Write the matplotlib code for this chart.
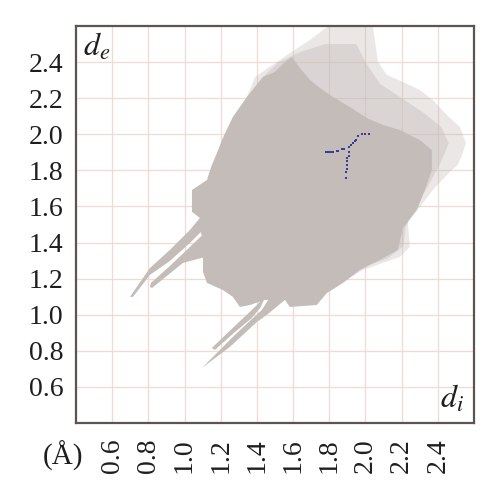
import matplotlib
matplotlib.use("Agg")
import matplotlib.pyplot as plt

# ---- data (d_i, d_e) ----
core_di = [1.041, 1.041, 1.124, 1.151, 1.179, 1.212, 1.267, 1.345, 1.433, 1.499, 1.555, 1.593,
           1.638, 1.693, 1.748, 1.820, 1.914, 2.008, 2.096, 2.190, 2.301, 2.367, 2.367, 2.328,
           2.284, 2.207, 2.179, 2.080, 1.969, 1.875, 1.787, 1.731, 1.582, 1.555, 1.444, 1.361,
           1.306, 1.267, 1.212, 1.124, 1.102, 1.102, 1.113, 1.085, 1.085]
core_de = [1.570, 1.691, 1.747, 1.830, 1.896, 1.980, 2.096, 2.207, 2.317, 2.345, 2.401, 2.428,
           2.367, 2.301, 2.257, 2.207, 2.151, 2.090, 2.052, 2.024, 1.968, 1.913, 1.802, 1.691,
           1.581, 1.481, 1.359, 1.304, 1.248, 1.176, 1.121, 1.054, 1.043, 1.082, 1.082, 1.054,
           1.043, 1.099, 1.137, 1.176, 1.237, 1.315, 1.387, 1.470, 1.536]

mid_di = [1.345, 1.433, 1.520, 1.650, 1.780, 1.950, 2.000, 2.080, 2.200, 2.320, 2.420, 2.460,
          2.420, 2.350, 2.280, 2.220, 2.210, 2.120, 2.000, 1.900, 1.800]
mid_de = [2.207, 2.317, 2.400, 2.460, 2.500, 2.500, 2.400, 2.280, 2.200, 2.120, 2.040, 1.950,
          1.850, 1.720, 1.600, 1.480, 1.380, 1.310, 1.270, 1.200, 1.130]

fringe_di = [1.345, 1.389, 1.461, 1.582, 1.693, 1.787, 2.041, 2.052, 2.069, 2.118, 2.207, 2.301,
             2.372, 2.450, 2.522, 2.555, 2.538, 2.510, 2.466, 2.372, 2.301, 2.234, 2.245, 2.190,
             2.096, 1.986, 1.914, 1.842, 1.787]
fringe_de = [2.207, 2.317, 2.367, 2.450, 2.522, 2.594, 2.594, 2.522, 2.401, 2.329, 2.290, 2.245,
             2.190, 2.107, 2.040, 1.952, 1.896, 1.830, 1.791, 1.691, 1.597, 1.514, 1.376, 1.320,
             1.287, 1.248, 1.204, 1.154, 1.121]

spike_c_di = [0.698, 0.809, 0.919, 1.030, 1.085, 1.124, 1.030, 0.919, 0.809, 0.715]
spike_c_de = [1.099, 1.259, 1.359, 1.470, 1.536, 1.492, 1.398, 1.298, 1.221, 1.099]
spike_d_di = [0.809, 0.814, 0.919, 1.030, 1.140, 1.113, 0.991, 0.820]
spike_d_de = [1.154, 1.176, 1.270, 1.376, 1.481, 1.320, 1.287, 1.148]
spike_a_di = [1.096, 1.251, 1.400, 1.461, 1.555, 1.600, 1.480, 1.428, 1.361, 1.267, 1.168, 1.107]
spike_a_de = [0.705, 0.822, 0.960, 1.004, 1.082, 1.120, 1.110, 1.027, 0.966, 0.877, 0.777, 0.716]
spike_b_di = [1.151, 1.267, 1.361, 1.400, 1.450, 1.420, 1.372, 1.267, 1.168]
spike_b_de = [0.816, 0.927, 1.016, 1.054, 1.110, 1.040, 0.982, 0.894, 0.805]

blue_di = [1.78, 1.79, 1.80, 1.81, 1.82, 1.84, 1.85, 1.87, 1.88, 1.91, 1.92, 1.93, 1.94, 1.95,
           1.96, 1.98, 2.00, 2.02, 1.91, 1.91, 1.90, 1.90, 1.90, 1.90, 1.89, 1.89]
blue_de = [1.90, 1.90, 1.90, 1.90, 1.90, 1.91, 1.91, 1.92, 1.92, 1.93, 1.94, 1.95, 1.96, 1.97,
           1.99, 2.00, 2.00, 2.00, 1.90, 1.88, 1.87, 1.85, 1.83, 1.81, 1.79, 1.76]

ticks = [0.6, 0.8, 1.0, 1.2, 1.4, 1.6, 1.8, 2.0, 2.2, 2.4]
tick_labels = ["0.6", "0.8", "1.0", "1.2", "1.4", "1.6", "1.8", "2.0", "2.2", "2.4"]
grid_vals = [0.6, 0.8, 1.0, 1.2, 1.4, 1.6, 1.8, 2.0, 2.2, 2.4]

# ---- figure ----
plt.rcParams['font.family'] = ['Liberation Serif', 'DejaVu Serif']
plt.rcParams['mathtext.fontset'] = 'stix'

fig = plt.figure(figsize=(4.99, 5.0), dpi=100)
ax = fig.add_axes([0.1523, 0.154, 0.7976, 0.794])
ax.set_xlim(0.4, 2.6)
ax.set_ylim(0.4, 2.6)

for g in grid_vals:
    ax.axvline(g, color='#efdad6', lw=0.9, zorder=0)
    ax.axhline(g, color='#efdad6', lw=0.9, zorder=0)

gray = '#c3bcb9'
ax.fill(fringe_di, fringe_de, color=gray, alpha=0.35, lw=0, zorder=1)
ax.fill(mid_di, mid_de, color=gray, alpha=0.4, lw=0, zorder=1)
ax.fill(core_di, core_de, color=gray, lw=0, zorder=2)
for sx, sy in [(spike_c_di, spike_c_de), (spike_d_di, spike_d_de),
               (spike_a_di, spike_a_de), (spike_b_di, spike_b_de)]:
    ax.fill(sx, sy, color=gray, lw=0, zorder=2)

ax.scatter(blue_di, blue_de, s=4.5, marker='s', color='#3b3b9c', lw=0, zorder=3)

ax.set_xticks(ticks)
ax.set_xticklabels(tick_labels, rotation=90, fontsize=20)
ax.set_yticks(ticks)
ax.set_yticklabels(tick_labels, fontsize=20)
ax.tick_params(length=0, pad=9, colors='#1e1e1e')
ax.tick_params(axis='x', pad=11)

for sp in ax.spines.values():
    sp.set_color('#5c5450')
    sp.set_linewidth(1.6)

ax.text(0.018, 0.985, r"$d_e$", transform=ax.transAxes, ha='left', va='top',
        fontsize=23, color='#1e1e1e')
ax.text(0.975, 0.02, r"$d_i$", transform=ax.transAxes, ha='right', va='bottom',
        fontsize=23, color='#1e1e1e')
fig.text(63 / 499, 1 - 456 / 500, "(Å)", ha='center', va='center', fontsize=21,
         color='#1e1e1e')

fig.savefig("out.png", dpi=100)
